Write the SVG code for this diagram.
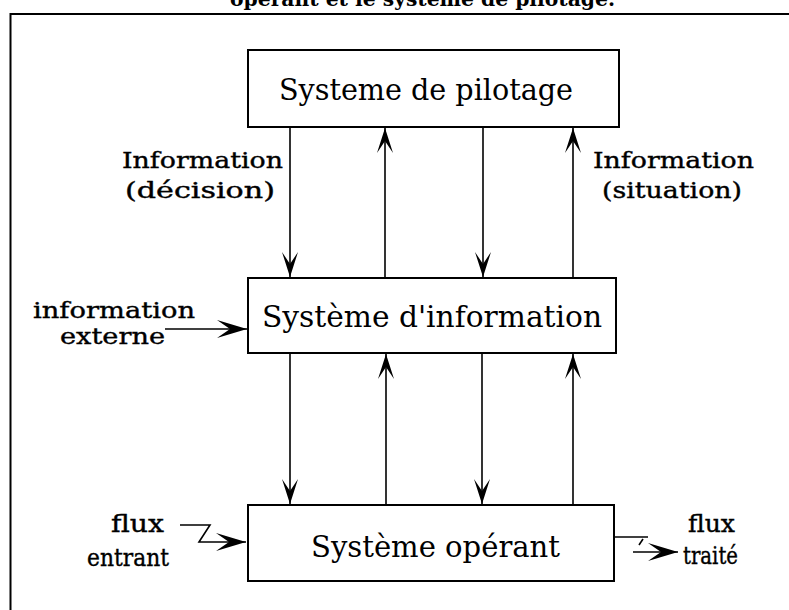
<svg xmlns="http://www.w3.org/2000/svg" width="789" height="610" viewBox="0 0 789 610">
<style>
  .bg { fill: #ffffff; }
  .frame { fill: none; stroke: #000; stroke-width: 2; }
  .box { fill: #ffffff; stroke: #000; stroke-width: 2; }
  .conn { fill: none; stroke: #000; stroke-width: 1.6; }
  .boxtxt { font-family: "DejaVu Serif", "Liberation Serif", serif; font-size: 30px; fill: #000; }
  .lbl { font-family: "DejaVu Serif", "Liberation Serif", serif; font-size: 23px; fill: #000; stroke: #000; stroke-width: 0.4; }
  .lbl2 { font-family: "DejaVu Serif", "Liberation Serif", serif; font-size: 25px; fill: #000; stroke: #000; stroke-width: 0.4; }
  .title { font-family: "DejaVu Serif", "Liberation Serif", serif; font-size: 21px; font-weight: bold; fill: #000; }
</style>
<defs>
  <marker id="ah" viewBox="-26 -10 28 20" refX="0" refY="0" markerWidth="28" markerHeight="20" markerUnits="userSpaceOnUse" orient="auto">
    <path d="M0,0 L-25,-8 L-13,0 L-25,8 Z" fill="#000"/>
  </marker>
  <marker id="ah2" viewBox="-32 -11 34 22" refX="0" refY="0" markerWidth="34" markerHeight="22" markerUnits="userSpaceOnUse" orient="auto">
    <path d="M0,0 L-30,-9 L-17,0 L-30,9 Z" fill="#000"/>
  </marker>
</defs>
<rect class="bg" x="0" y="0" width="789" height="610"/>
<text class="title" x="230" y="6" textLength="385" lengthAdjust="spacingAndGlyphs">opérant et le système de pilotage.</text>
<path class="frame" d="M10.5,610 L10.5,14 L789,14"/>

<g id="connectors">
  <line class="conn" x1="290" y1="127" x2="290" y2="277" marker-end="url(#ah)"/>
  <line class="conn" x1="385" y1="278" x2="385" y2="128" marker-end="url(#ah)"/>
  <line class="conn" x1="483" y1="127" x2="483" y2="277" marker-end="url(#ah)"/>
  <line class="conn" x1="573" y1="278" x2="573" y2="128" marker-end="url(#ah)"/>
  <line class="conn" x1="290" y1="353" x2="290" y2="504" marker-end="url(#ah)"/>
  <line class="conn" x1="386" y1="505" x2="386" y2="354" marker-end="url(#ah)"/>
  <line class="conn" x1="482" y1="353" x2="482" y2="504" marker-end="url(#ah)"/>
  <line class="conn" x1="573" y1="505" x2="573" y2="354" marker-end="url(#ah)"/>
  <line class="conn" x1="165" y1="329" x2="247" y2="329" marker-end="url(#ah2)"/>
  <path class="conn" d="M180,525 L210,525 L199,542 L246,542" marker-end="url(#ah2)"/>
  <path class="conn" d="M614,537 L648,537"/>
  <path class="conn" d="M643,539 L639,545"/>
  <line class="conn" x1="633" y1="552" x2="678" y2="552" marker-end="url(#ah2)"/>
</g>

<g id="systeme-pilotage">
  <rect class="box" x="248" y="50" width="371" height="77"/>
  <text class="boxtxt" x="279" y="100" textLength="294" lengthAdjust="spacingAndGlyphs">Systeme de pilotage</text>
</g>
<g id="systeme-information">
  <rect class="box" x="248" y="278" width="368" height="75"/>
  <text class="boxtxt" x="262" y="327" textLength="340" lengthAdjust="spacingAndGlyphs">Système d'information</text>
</g>
<g id="systeme-operant">
  <rect class="box" x="248" y="505" width="366" height="76"/>
  <text class="boxtxt" x="311" y="557" textLength="249" lengthAdjust="spacingAndGlyphs">Système opérant</text>
</g>

<g id="label-decision">
  <text class="lbl" x="122" y="168" textLength="161" lengthAdjust="spacingAndGlyphs">Information</text>
  <text class="lbl" x="125" y="198" textLength="150" lengthAdjust="spacingAndGlyphs">(décision)</text>
</g>
<g id="label-situation">
  <text class="lbl" x="593" y="168" textLength="161" lengthAdjust="spacingAndGlyphs">Information</text>
  <text class="lbl" x="602" y="198" textLength="140" lengthAdjust="spacingAndGlyphs">(situation)</text>
</g>
<g id="label-externe">
  <text class="lbl" x="33" y="318" textLength="162" lengthAdjust="spacingAndGlyphs">information</text>
  <text class="lbl" x="60" y="344" textLength="105" lengthAdjust="spacingAndGlyphs">externe</text>
</g>
<g id="label-entrant">
  <text class="lbl2" x="111" y="532" textLength="53" lengthAdjust="spacingAndGlyphs">flux</text>
  <text class="lbl2" x="87" y="566" textLength="82" lengthAdjust="spacingAndGlyphs">entrant</text>
</g>
<g id="label-traite">
  <text class="lbl2" x="688" y="532" textLength="47" lengthAdjust="spacingAndGlyphs">flux</text>
  <text class="lbl2" x="683" y="564" textLength="55" lengthAdjust="spacingAndGlyphs">traité</text>
</g>
</svg>
